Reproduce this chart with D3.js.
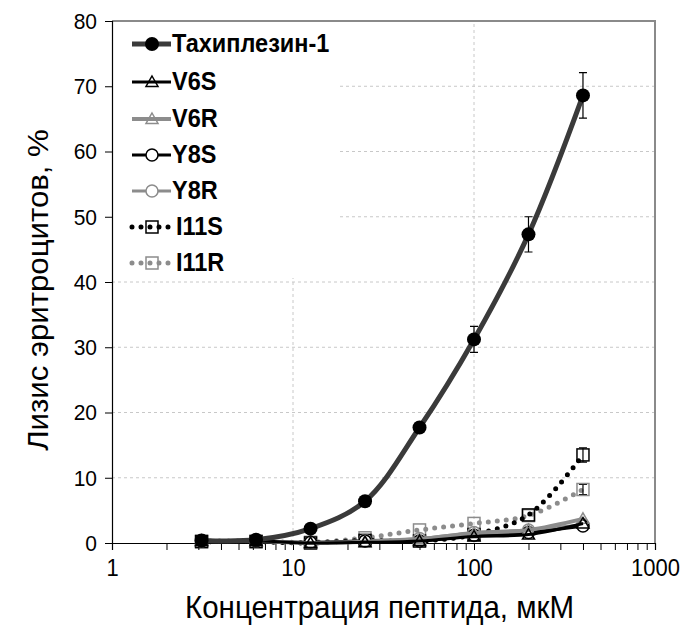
<!DOCTYPE html>
<html>
<head>
<meta charset="utf-8">
<script src="https://cdn.jsdelivr.net/npm/d3@7"></script>
<style>
  html, body { margin: 0; padding: 0; background: #fff; }
  svg { display: block; font-family: "Liberation Sans", Arial, sans-serif; }
</style>
</head>
<body>
<svg id="chart" width="688" height="627"></svg>
<script>
// Peptide concentrations, µM
const concentrations = [3.125, 6.25, 12.5, 25, 50, 100, 200, 400];

// Hemolysis, %
const tachyplesin = [0.4, 0.5, 2.2, 6.4, 17.7, 31.2, 47.3, 68.6];
const tachyplesinErr = [0, 0, 0, 0, 0, 2.0, 2.7, 3.5];
const v6s = [0.3, 0.3, 0.0, 0.1, 0.3, 1.0, 1.3, 3.0];
const v6r = [0.3, 0.3, 0.0, 0.2, 0.6, 1.5, 2.0, 3.7];
const y8s = [0.3, 0.3, 0.1, 0.3, 0.3, 1.2, 1.6, 2.6];
const y8r = [0.3, 0.3, 0.1, 0.4, 0.7, 1.6, 2.0, 2.8];
const i11s = [0.2, 0.2, 0.0, 0.4, 0.3, 1.3, 4.3, 13.5];
const i11sErr = [0, 0, 0, 0, 0, 0, 0, 1.1];
const i11r = [0.3, 0.3, 0.1, 0.8, 2.0, 3.0, 4.2, 8.2];
const i11rErr = [0, 0, 0, 0, 0, 0, 0, 0.8];

const xTicks = [1, 10, 100, 1000];
const yTicks = [0, 10, 20, 30, 40, 50, 60, 70, 80];

const seriesNames = ["Тахиплезин-1", "V6S", "V6R", "Y8S", "Y8R", "I11S", "I11R"];

const series = [
  { name: seriesNames[0], values: tachyplesin, err: tachyplesinErr, line: "#3a3a3a", width: 5, dash: null, marker: "bigdot", mcolor: "#000" },
  { name: seriesNames[1], values: v6s, err: null, line: "#000", width: 3, dash: null, marker: "triangle", mcolor: "#000" },
  { name: seriesNames[2], values: v6r, err: null, line: "#8c8c8c", width: 4, dash: null, marker: "triangle", mcolor: "#8c8c8c" },
  { name: seriesNames[3], values: y8s, err: null, line: "#000", width: 3, dash: null, marker: "circle", mcolor: "#000" },
  { name: seriesNames[4], values: y8r, err: null, line: "#8c8c8c", width: 3, dash: null, marker: "circle", mcolor: "#8c8c8c" },
  { name: seriesNames[5], values: i11s, err: i11sErr, line: "#000", width: 5, dash: "0,9", marker: "square", mcolor: "#000" },
  { name: seriesNames[6], values: i11r, err: i11rErr, line: "#8c8c8c", width: 5, dash: "0,9", marker: "square", mcolor: "#8c8c8c" }
];

const svg = d3.select("#chart");
const margin = { left: 112, right: 33, top: 21, bottom: 84 };
const W = 688, H = 627;

const x = d3.scaleLog().domain([1, 1000]).range([margin.left, W - margin.right]);
const y = d3.scaleLinear().domain([0, 80]).range([H - margin.bottom, margin.top]);

// Text is drawn slightly tall, like the chart's original typography
const TALL = 1.08;

// Grid
const grid = svg.append("g");
grid.selectAll("line.h").data(yTicks.filter(v => v > 0 && v < 80)).join("line")
  .attr("x1", x(1)).attr("x2", x(1000))
  .attr("y1", d => y(d)).attr("y2", d => y(d))
  .attr("stroke", "#c8c8c8").attr("stroke-width", 1).attr("stroke-dasharray", "3,3");
grid.selectAll("line.v").data([10, 100]).join("line")
  .attr("x1", d => x(d)).attr("x2", d => x(d))
  .attr("y1", y(0)).attr("y2", y(80))
  .attr("stroke", "#c8c8c8").attr("stroke-width", 1).attr("stroke-dasharray", "3,3");

// Plot border (top and right)
svg.append("path")
  .attr("d", `M${x(1)},${y(80)}H${x(1000)}V${y(0)}`)
  .attr("fill", "none").attr("stroke", "#8a8a8a").attr("stroke-width", 2);

// Legend background hides the grid behind it
svg.append("rect").attr("x", x(1) + 1).attr("y", y(80) + 2)
  .attr("width", 224).attr("height", 255).attr("fill", "#fff");

// Axes
const minorTicks = [];
for (let e = 0; e < 3; e++) for (let m = 1; m <= 9; m++) minorTicks.push(m * Math.pow(10, e));
minorTicks.push(1000);

const xAxis = d3.axisBottom(x).tickValues(minorTicks)
  .tickFormat(d => xTicks.includes(d) ? d3.format("d")(d) : "")
  .tickSize(7).tickPadding(10);
const gx = svg.append("g").attr("transform", `translate(0,${y(0)})`).call(xAxis);
gx.select(".domain").attr("stroke", "#000").attr("stroke-width", 1.2);
gx.selectAll(".tick line").attr("stroke", "#000");
gx.selectAll(".tick text").attr("font-size", 22).attr("fill", "#000")
  .attr("font-family", "Liberation Sans, Arial, sans-serif")
  .attr("transform", `translate(0,-2) scale(1,${TALL})`);

const yAxis = d3.axisLeft(y).tickValues(yTicks).tickFormat(d3.format("d")).tickSize(7).tickPadding(8);
const gy = svg.append("g").attr("transform", `translate(${x(1)},0)`).call(yAxis);
gy.select(".domain").attr("stroke", "#000").attr("stroke-width", 1.2);
gy.selectAll(".tick line").attr("stroke", "#000");
gy.selectAll(".tick text").attr("font-size", 21).attr("fill", "#000")
  .attr("font-family", "Liberation Sans, Arial, sans-serif")
  .each(function () {
    const t = d3.select(this);
    const ty = d3.select(this.parentNode).attr("transform");
    t.attr("transform", `scale(1,${TALL})`);
  });

// Axis titles
svg.append("text")
  .attr("transform", `translate(${(x(1) + x(1000)) / 2 - 4},618) scale(1,${TALL})`)
  .attr("text-anchor", "middle").attr("font-size", 29.5).attr("fill", "#000")
  .text("Концентрация пептида, мкМ");
svg.append("text")
  .attr("transform", `translate(48,${(y(0) + y(80)) / 2 + 8}) scale(1,1.04) rotate(-90)`)
  .attr("text-anchor", "middle").attr("font-size", 30).attr("fill", "#000")
  .text("Лизис эритроцитов, %");

// Marker drawing
function drawMarker(g, type, color, cx, cy) {
  if (type === "bigdot") {
    g.append("circle").attr("cx", cx).attr("cy", cy).attr("r", 7).attr("fill", "#000");
  } else if (type === "circle") {
    g.append("circle").attr("cx", cx).attr("cy", cy).attr("r", 6)
      .attr("fill", "#fff").attr("stroke", color).attr("stroke-width", 1.5);
  } else if (type === "triangle") {
    const s = 6;
    g.append("path").attr("d", `M${cx},${cy - s}L${cx + s},${cy + s * 0.75}L${cx - s},${cy + s * 0.75}Z`)
      .attr("fill", "none").attr("stroke", color).attr("stroke-width", 1.5);
  } else if (type === "square") {
    g.append("rect").attr("x", cx - 6).attr("y", cy - 6).attr("width", 12).attr("height", 12)
      .attr("fill", "none").attr("stroke", color).attr("stroke-width", 1.5);
  }
}

const line = d3.line().x(d => x(d[0])).y(d => y(d[1])).curve(d3.curveCatmullRom.alpha(0.5));

// Draw series in reverse so the main curve is on top
const plot = svg.append("g");
series.slice().reverse().forEach(s => {
  const g = plot.append("g");
  const pts = concentrations.map((c, i) => [c, s.values[i]]);
  g.append("path").datum(pts).attr("d", line)
    .attr("fill", "none").attr("stroke", s.line).attr("stroke-width", s.width)
    .attr("stroke-linecap", s.dash ? "round" : "butt")
    .attr("stroke-dasharray", s.dash);
  if (s.err) {
    pts.forEach((p, i) => {
      const e = s.err[i];
      if (!e) return;
      const cx = x(p[0]);
      g.append("path")
        .attr("d", `M${cx},${y(p[1] - e)}V${y(p[1] + e)}M${cx - 4},${y(p[1] + e)}H${cx + 4}M${cx - 4},${y(p[1] - e)}H${cx + 4}`)
        .attr("stroke", "#000").attr("stroke-width", 1.2).attr("fill", "none");
    });
  }
  pts.forEach(p => drawMarker(g, s.marker, s.mcolor, x(p[0]), y(p[1])));
});

// Legend
const legend = svg.append("g");
const legendY = [44, 82, 119, 155, 191, 227, 263];
series.forEach((s, i) => {
  const g = legend.append("g");
  const ly = legendY[i];
  g.append("line").attr("x1", 132).attr("x2", 171).attr("y1", ly).attr("y2", ly)
    .attr("stroke", s.line).attr("stroke-width", s.width)
    .attr("stroke-linecap", s.dash ? "round" : "butt")
    .attr("stroke-dasharray", s.dash);
  drawMarker(g, s.marker, s.mcolor, 152, ly);
  g.append("text")
    .attr("transform", `translate(${s.dash ? 176 : 172},${ly + 8}) scale(1,${TALL})`)
    .attr("font-size", 23.5).attr("font-weight", "bold").attr("fill", "#000")
    .text(s.name);
});
</script>
</body>
</html>
